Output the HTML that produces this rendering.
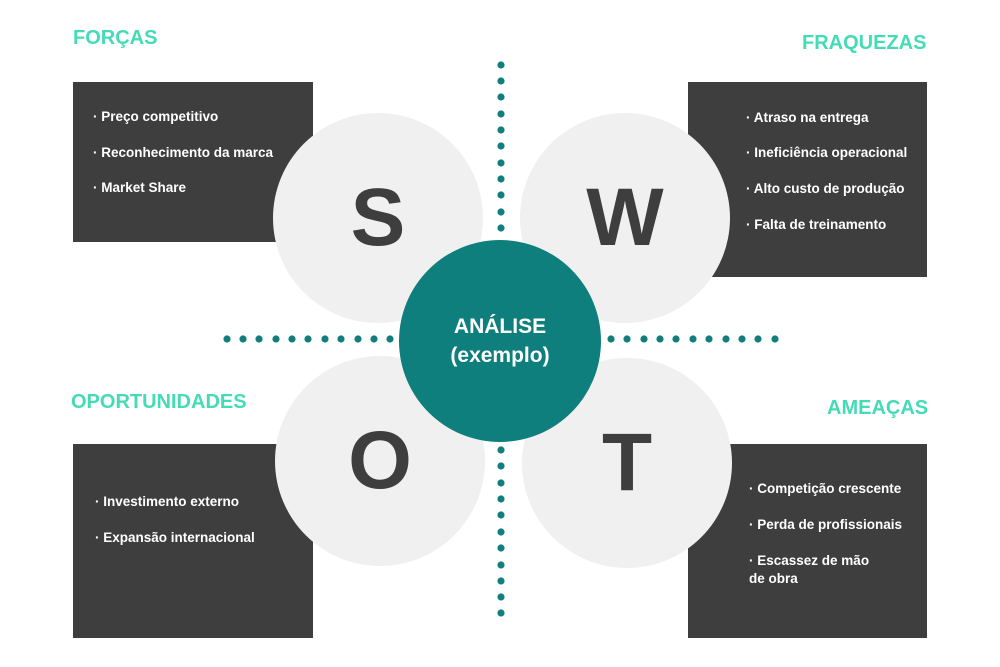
<!DOCTYPE html>
<html><head><style>
body{margin:0;width:1000px;height:667px;background:#fff;position:relative;overflow:hidden;font-family:"Liberation Sans",sans-serif}
.t{position:absolute;color:#45dbb6;font-weight:bold;font-size:20px}
.box{position:absolute;background:#3e3e3e;color:#fff;font-weight:bold;font-size:13.5px}
.box div{position:absolute;white-space:nowrap;line-height:18px}
.c{position:absolute;border-radius:50%;background:#f0f0f0;color:#3e3e3e;font-weight:bold;font-size:82px;display:flex;align-items:center;justify-content:center}
</style></head><body>
<div class="t" style="left:73px;top:27px">FORÇAS</div>
<div class="t" style="left:802px;top:32px">FRAQUEZAS</div>
<div class="t" style="left:71px;top:391px">OPORTUNIDADES</div>
<div class="t" style="left:827px;top:397px">AMEAÇAS</div>

<div class="box" style="left:73px;top:82px;width:240px;height:160px">
<div style="left:20px;top:26px">· Preço competitivo</div>
<div style="left:20px;top:62px">· Reconhecimento da marca</div>
<div style="left:20px;top:97px">· Market Share</div></div>
<div class="box" style="left:688px;top:82px;width:239px;height:195px">
<div style="left:58px;top:27px">· Atraso na entrega</div>
<div style="left:58px;top:62px">· Ineficiência operacional</div>
<div style="left:58px;top:98px">· Alto custo de produção</div>
<div style="left:58px;top:134px">· Falta de treinamento</div></div>
<div class="box" style="left:73px;top:444px;width:240px;height:194px">
<div style="left:22px;top:49px">· Investimento externo</div>
<div style="left:22px;top:85px">· Expansão internacional</div></div>
<div class="box" style="left:688px;top:444px;width:239px;height:194px">
<div style="left:61px;top:36px">· Competição crescente</div>
<div style="left:61px;top:72px">· Perda de profissionais</div>
<div style="left:61px;top:108px">· Escassez de mão<br>de obra</div></div>

<svg style="position:absolute;left:0;top:0" width="1000" height="667">
<g fill="#0e7f7c">
<script></script>
</g>
<g fill="#0e7f7c" id="d"></g>
</svg>
<svg style="position:absolute;left:0;top:0" width="1000" height="667" fill="#0e7f7c">
<circle cx="501" cy="65" r="3.6"/><circle cx="501" cy="81" r="3.6"/><circle cx="501" cy="97" r="3.6"/><circle cx="501" cy="114" r="3.6"/><circle cx="501" cy="130" r="3.6"/><circle cx="501" cy="146" r="3.6"/><circle cx="501" cy="163" r="3.6"/><circle cx="501" cy="179" r="3.6"/><circle cx="501" cy="195" r="3.6"/><circle cx="501" cy="212" r="3.6"/><circle cx="501" cy="228" r="3.6"/>
<circle cx="501" cy="450" r="3.6"/><circle cx="501" cy="466" r="3.6"/><circle cx="501" cy="483" r="3.6"/><circle cx="501" cy="499" r="3.6"/><circle cx="501" cy="515" r="3.6"/><circle cx="501" cy="532" r="3.6"/><circle cx="501" cy="548" r="3.6"/><circle cx="501" cy="565" r="3.6"/><circle cx="501" cy="581" r="3.6"/><circle cx="501" cy="597" r="3.6"/><circle cx="501" cy="613" r="3.6"/>
<circle cx="227" cy="339" r="3.6"/><circle cx="243" cy="339" r="3.6"/><circle cx="259" cy="339" r="3.6"/><circle cx="276" cy="339" r="3.6"/><circle cx="292" cy="339" r="3.6"/><circle cx="308" cy="339" r="3.6"/><circle cx="325" cy="339" r="3.6"/><circle cx="341" cy="339" r="3.6"/><circle cx="358" cy="339" r="3.6"/><circle cx="374" cy="339" r="3.6"/><circle cx="390" cy="339" r="3.6"/>
<circle cx="611" cy="339" r="3.6"/><circle cx="627" cy="339" r="3.6"/><circle cx="644" cy="339" r="3.6"/><circle cx="660" cy="339" r="3.6"/><circle cx="676" cy="339" r="3.6"/><circle cx="693" cy="339" r="3.6"/><circle cx="709" cy="339" r="3.6"/><circle cx="726" cy="339" r="3.6"/><circle cx="742" cy="339" r="3.6"/><circle cx="758" cy="339" r="3.6"/><circle cx="775" cy="339" r="3.6"/>
</svg>

<div class="c" style="left:273px;top:113px;width:210px;height:210px">S</div>
<div class="c" style="left:520px;top:113px;width:210px;height:210px">W</div>
<div class="c" style="left:275px;top:356px;width:210px;height:210px">O</div>
<div class="c" style="left:522px;top:358px;width:210px;height:210px">T</div>

<div style="position:absolute;left:399px;top:240px;width:202px;height:202px;border-radius:50%;background:#0e7f7c;color:#fff;font-weight:bold;font-size:21px;display:flex;align-items:center;justify-content:center;text-align:center;line-height:29px">ANÁLISE<br>(exemplo)</div>
</body></html>
